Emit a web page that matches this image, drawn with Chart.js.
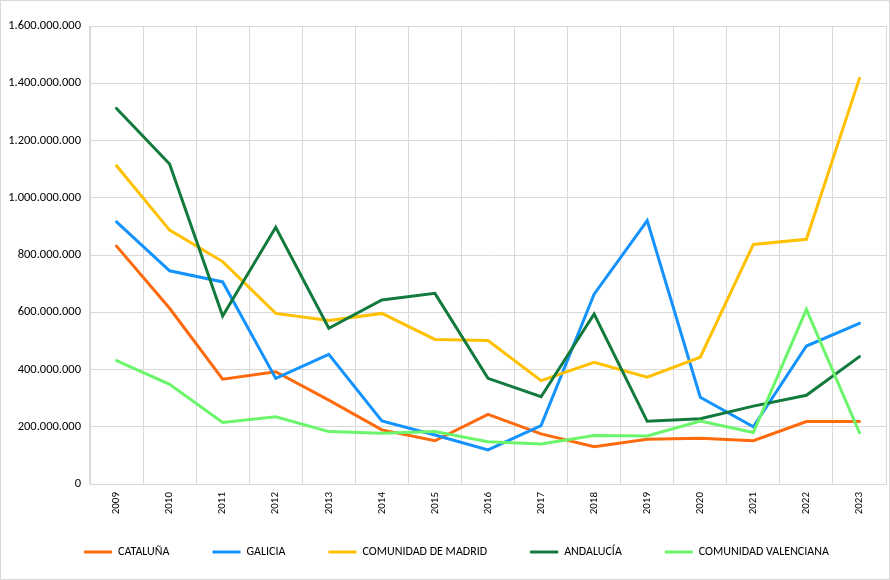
<!DOCTYPE html>
<html>
<head>
<meta charset="utf-8">
<script src="https://cdn.jsdelivr.net/npm/chart.js@4/dist/chart.umd.min.js"></script>
<style>
  html, body { margin: 0; padding: 0; background: #fff; }
  #wrap { position: absolute; left: 0; top: 0; width: 888px; height: 578px; border: 1px solid #d9d9d9; }
  canvas { display: block; }
</style>
</head>
<body>
<div id="wrap"><canvas id="c" width="888" height="578"></canvas></div>
<script>
const years = ['2009','2010','2011','2012','2013','2014','2015','2016','2017','2018','2019','2020','2021','2022','2023'];
const cataluna   = [831e6, 614e6, 366e6, 392e6, 293e6, 189e6, 151e6, 243e6, 175e6, 130e6, 156e6, 160e6, 151e6, 218e6, 218e6];
const galicia    = [916e6, 745e6, 706e6, 369e6, 453e6, 220e6, 171e6, 119e6, 204e6, 663e6, 920e6, 303e6, 200e6, 482e6, 561e6];
const madrid     = [1112e6, 887e6, 777e6, 596e6, 571e6, 596e6, 505e6, 501e6, 361e6, 425e6, 373e6, 443e6, 837e6, 855e6, 1417e6];
const andalucia  = [1312e6, 1118e6, 587e6, 897e6, 544e6, 643e6, 666e6, 369e6, 305e6, 594e6, 219e6, 228e6, 272e6, 310e6, 445e6];
const valenciana = [431e6, 348e6, 215e6, 235e6, 183e6, 177e6, 183e6, 148e6, 140e6, 169e6, 168e6, 220e6, 180e6, 610e6, 179e6];

const seriesNames = ['CATALUÑA', 'GALICIA', 'COMUNIDAD DE MADRID', 'ANDALUCÍA', 'COMUNIDAD VALENCIANA'];
const seriesData = [cataluna, galicia, madrid, andalucia, valenciana];
const seriesColors = ['#FF6A0D', '#1493FF', '#FFC000', '#127A3C', '#6BF56B'];

const FONT = 'Carlito, Lato, "Liberation Sans", sans-serif';

const datasets = seriesData.map((d, i) => ({
  label: seriesNames[i],
  data: d,
  borderColor: seriesColors[i],
  backgroundColor: seriesColors[i],
  borderWidth: 3,
  pointRadius: 0,
  pointHoverRadius: 0,
  tension: 0,
  fill: false,
  borderCapStyle: 'round',
  order: seriesData.length - i
}));

function fmt(v) {
  return String(Math.round(v)).replace(/\B(?=(\d{3})+(?!\d))/g, '.');
}

// Place the legend row where the reference has it (below the rotated year labels).
const legendPlacer = {
  id: 'legendPlacer',
  afterLayout(chart) {
    const lg = chart.legend;
    if (!lg) return;
    const h = lg.bottom - lg.top;
    lg.top = 502; lg.bottom = 502 + h;
    lg.left += 13; lg.right += 13;
  }
};

new Chart(document.getElementById('c'), {
  type: 'line',
  data: { labels: years, datasets },
  plugins: [legendPlacer],
  options: {
    responsive: false,
    animation: false,
    layout: { padding: { top: 25, right: 3, left: 0, bottom: -10 } },
    plugins: {
      tooltip: { enabled: false },
      legend: {
        position: 'bottom',
        labels: {
          usePointStyle: true,
          pointStyle: 'line',
          pointStyleWidth: 28,
          boxHeight: 12,
          padding: 43,
          color: '#000',
          font: { family: FONT, size: 12 },
          sort: (a, b) => a.datasetIndex - b.datasetIndex
        }
      }
    },
    scales: {
      x: {
        offset: true,
        grid: { offset: true, color: '#d9d9d9', lineWidth: 1, drawTicks: false },
        border: { color: '#d9d9d9' },
        ticks: {
          minRotation: 90, maxRotation: 90, padding: 8,
          color: '#000', font: { family: FONT, size: 11 }
        },
        afterFit: (axis) => { axis.height = 40; }
      },
      y: {
        min: 0, max: 1600000000,
        grid: { color: '#d9d9d9', lineWidth: 1, drawTicks: false },
        border: { color: '#d9d9d9' },
        ticks: {
          stepSize: 200000000, padding: 9,
          color: '#000', font: { family: FONT, size: 12.5 },
          callback: (v) => fmt(v)
        },
        afterFit: (axis) => { axis.width = 89; }
      }
    }
  }
});
</script>
</body>
</html>
